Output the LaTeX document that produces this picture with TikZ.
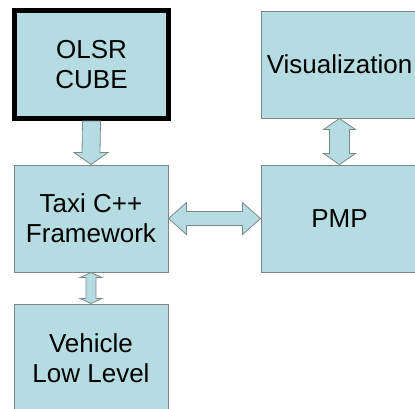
\documentclass[tikz,border=0pt]{standalone}
\usepackage{fontspec}
\setmainfont{Liberation Sans}
\usetikzlibrary{calc}

\begin{document}
\begin{tikzpicture}[x=1pt, y=1pt,
  block/.style={draw=boxline, fill=boxfill, line width=1pt, inner sep=0pt,
    minimum width=154pt, minimum height=107pt, align=center,
    font=\fontsize{26}{30}\selectfont},
  blockarrow/.style={draw=boxline, fill=boxfill, line width=0.8pt}]

\definecolor{boxfill}{RGB}{180,220,226}
\definecolor{boxline}{RGB}{125,135,135}

\useasboundingbox (0,0) rectangle (415,-408);

\node[block, draw=black, line width=5pt, minimum height=108pt] (olsr) at (91.5,-64.5) {OLSR\\CUBE};
\node[block, minimum width=157pt] (vis) at (339.5,-64.5) {Visualization};
\node[block] (taxi) at (91,-218.5) {Taxi C++\\Framework};
\node[block, minimum width=157pt] (pmp) at (339.5,-218.5) {PMP};
\node[block, minimum height=108pt] (vehicle) at (91,-358) {Vehicle\\Low Level};

% single arrow down
\draw[blockarrow] ($(olsr.south)+(-9,0)$) -- ($(taxi.north)+(-9,12)$) -- ++(-8,0)
  -- (taxi.north) -- ++(17,12) -- ++(-8,0) -- ($(olsr.south)+(9,0)$) -- cycle;

% double arrows
\draw[blockarrow] (vis.south) -- ++(16,-11) -- ++(-6,0) -- ($(pmp.north)+(10,11)$)
  -- ++(6,0) -- (pmp.north) -- ++(-16,11) -- ++(6,0) -- ($(vis.south)+(-10,-11)$)
  -- ++(-6,0) -- cycle;

\draw[blockarrow] (taxi.east) -- ++(18,16) -- ++(0,-9) -- ($(pmp.west)+(-18,7)$)
  -- ++(0,9) -- (pmp.west) -- ++(-18,-16) -- ++(0,9) -- ($(taxi.east)+(18,-7)$)
  -- ++(0,-9) -- cycle;

\draw[blockarrow] (taxi.south) -- ++(11,-5) -- ++(-6,0) -- ($(vehicle.north)+(5,5)$)
  -- ++(6,0) -- (vehicle.north) -- ++(-11,5) -- ++(6,0) -- ($(taxi.south)+(-5,-5)$)
  -- ++(-6,0) -- cycle;

\end{tikzpicture}
\end{document}
